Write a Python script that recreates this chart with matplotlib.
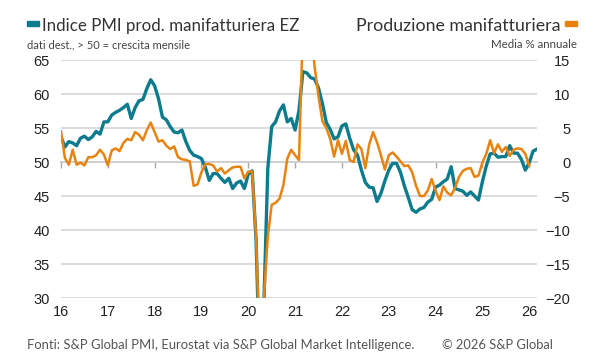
import matplotlib
matplotlib.use("Agg")
import matplotlib.pyplot as plt
from matplotlib.patches import Rectangle
import numpy as np

# Eurozone manufacturing output PMI, monthly Jan 2016 - Mar 2026
pmi_output = [
    53.7, 52.2, 53.0, 52.8, 52.4, 53.5, 53.8, 53.3, 53.7, 54.5, 54.1, 55.9,   # 2016
    55.9, 56.9, 57.3, 57.6, 58.0, 58.5, 56.4, 58.0, 59.0, 59.2, 60.8, 62.1,   # 2017
    61.2, 59.3, 56.6, 56.2, 55.2, 54.4, 54.3, 54.7, 53.0, 51.7, 51.0, 50.8,   # 2018
    50.5, 49.2, 47.3, 48.3, 48.3, 47.6, 47.0, 47.6, 46.1, 46.9, 47.2, 46.1,   # 2019
    48.2, 48.7, 38.5, 18.1, 29.2, 49.0, 55.2, 55.9, 57.5, 58.4, 55.9, 56.4,   # 2020
    54.7, 57.6, 63.3, 63.1, 62.4, 62.2, 60.9, 58.6, 55.8, 54.8, 53.4, 53.7,   # 2021
    55.3, 55.6, 53.5, 51.8, 51.0, 48.8, 47.0, 46.3, 46.2, 44.2, 45.4, 47.2,   # 2022
    48.8, 49.8, 49.8, 48.5, 46.5, 44.8, 43.0, 42.6, 43.1, 43.3, 44.1, 44.5,   # 2023
    46.3, 46.6, 47.1, 47.5, 49.3, 46.1, 45.9, 45.7, 45.1, 45.6, 45.0, 44.4,   # 2024
    47.1, 49.4, 51.2, 51.3, 50.7, 50.8, 50.8, 52.4, 51.3, 51.3, 50.4, 48.8,   # 2025
    49.9, 51.6, 51.9,                                                         # 2026
]

# Manufacturing production, annual % change, monthly Jan 2016 - Jan 2026
production = [
    4.5, 0.6, -0.4, 1.8, -0.4, -0.1, -0.5, 0.7, 0.7, 1.0, 1.8, 1.1,          # 2016
    -0.5, 1.7, 2.0, 1.6, 2.8, 3.4, 3.2, 4.4, 4.0, 3.2, 4.7, 5.8,             # 2017
    4.4, 3.0, 3.2, 2.4, 1.9, 2.3, 0.7, 0.4, 0.3, 0.1, -3.5, -3.3,            # 2018
    -1.5, -0.3, -0.3, -0.5, -1.4, -0.9, -1.7, -1.2, -0.8, -0.7, -0.7, -2.4,  # 2019
    -1.4, -1.4, -11.0, -29.0, -20.0, -11.0, -6.3, -6.0, -5.4, -3.4, 0.5, 1.8,  # 2020
    1.0, 0.3, 20.0, 38.0, 20.0, 14.0, 9.7, 6.0, 5.0, 3.4, 0.8, 3.2,          # 2021
    1.2, 3.1, 0.3, 0.0, 2.6, 1.9, -0.9, 2.6, 4.4, 2.9, 1.0, -1.1,            # 2022
    1.0, 1.4, 0.8, 0.1, -0.6, -0.5, -1.5, -3.5, -5.0, -5.0, -4.2, -2.5,      # 2023
    -4.2, -5.6, -3.6, -4.5, -4.9, -3.8, -2.2, -1.3, -1.0, -0.9, -2.2, -2.0,  # 2024
    -0.1, 1.2, 3.2, 1.3, 2.6, 1.5, 2.2, 0.9, 1.8, 2.0, 1.9, 1.2,             # 2025
    -0.5,                                                                    # 2026
]

years = list(range(2016, 2027))
year_labels = [str(y)[2:] for y in years]
left_ticks = list(range(30, 70, 5))
right_ticks = list(range(-20, 20, 5))

teal = "#0b7b8d"
orange = "#e8830f"
text_col = "#333333"

x_pmi = 2016 + np.arange(len(pmi_output)) / 12
x_prod = 2016 + np.arange(len(production)) / 12

fig = plt.figure(figsize=(6, 3.6), dpi=100)
ax = fig.add_axes([61 / 600, 62 / 360, 476 / 600, 238 / 360])

ax.set_xlim(2016, 2016 + (len(pmi_output) - 1) / 12)
ax.set_ylim(30, 65)
ax.set_yticks(left_ticks)
ax.grid(axis="y", color="#d5d5d5", linewidth=1.2)
ax.set_axisbelow(True)
for s in ax.spines.values():
    s.set_visible(False)
ax.set_xticks(years)
ax.set_xticklabels(year_labels)
ax.tick_params(axis="both", length=0, labelsize=10.5, labelcolor="#222222")
ax.tick_params(axis="y", pad=8)
ax.tick_params(axis="x", pad=5)
for lab in ax.get_xticklabels() + ax.get_yticklabels():
    lab.set_fontfamily("Liberation Sans")

# 50 line with year ticks
sec = ax.secondary_xaxis(20 / 35)
sec.set_alignment("bottom")
sec.set_xticks(years)
sec.set_xticklabels([])
sec.tick_params(length=4, width=1, color="#a8a8a8", direction="out")
sec.spines["bottom"].set_color("#a8a8a8")
sec.spines["bottom"].set_linewidth(1.2)
for k in ("top", "left", "right"):
    sec.spines[k].set_visible(False)

ax.plot(x_pmi, pmi_output, color=teal, linewidth=2.4, solid_joinstyle="round")

ax2 = ax.twinx()
ax2.set_ylim(-20, 15)
ax2.set_yticks(right_ticks)
for s in ax2.spines.values():
    s.set_visible(False)
ax2.tick_params(axis="y", length=0, labelsize=10.5, labelcolor="#222222", pad=24)
for lab in ax2.get_yticklabels():
    lab.set_fontfamily("Liberation Sans")
    lab.set_horizontalalignment("right")
ax2.plot(x_prod, production, color=orange, linewidth=1.8, solid_joinstyle="round")

# header
fig.patches.append(Rectangle((27 / 600, 1 - 25.5 / 360), 12 / 600, 4.5 / 360,
                             transform=fig.transFigure, color=teal))
fig.text(42 / 600, 1 - 31 / 360, "Indice PMI prod. manifatturiera EZ", fontsize=12.2,
         family="Lato", color=text_col, va="baseline")
fig.text(27 / 600, 1 - 48 / 360, "dati dest., > 50 = crescita mensile", fontsize=8,
         family="Lato", color="#444444", va="baseline")
fig.patches.append(Rectangle((565 / 600, 1 - 25.5 / 360), 12 / 600, 4.5 / 360,
                             transform=fig.transFigure, color=orange))
fig.text(560 / 600, 1 - 31 / 360, "Produzione manifatturiera", fontsize=12.8,
         family="Lato", color=text_col, va="baseline", ha="right")
fig.text(577 / 600, 1 - 48 / 360, "Media % annuale", fontsize=8.3,
         family="Lato", color="#444444", va="baseline", ha="right")

# footer
fig.text(27 / 600, 1 - 349 / 360,
         "Fonti: S&P Global PMI, Eurostat via S&P Global Market Intelligence.",
         fontsize=9.4, family="Lato", color="#555555", va="baseline")
fig.text(553 / 600, 1 - 349 / 360, "\u00a9 2026 S&P Global", fontsize=9.3,
         family="Lato", color="#555555", va="baseline", ha="right")

fig.savefig("out.png", dpi=100)
